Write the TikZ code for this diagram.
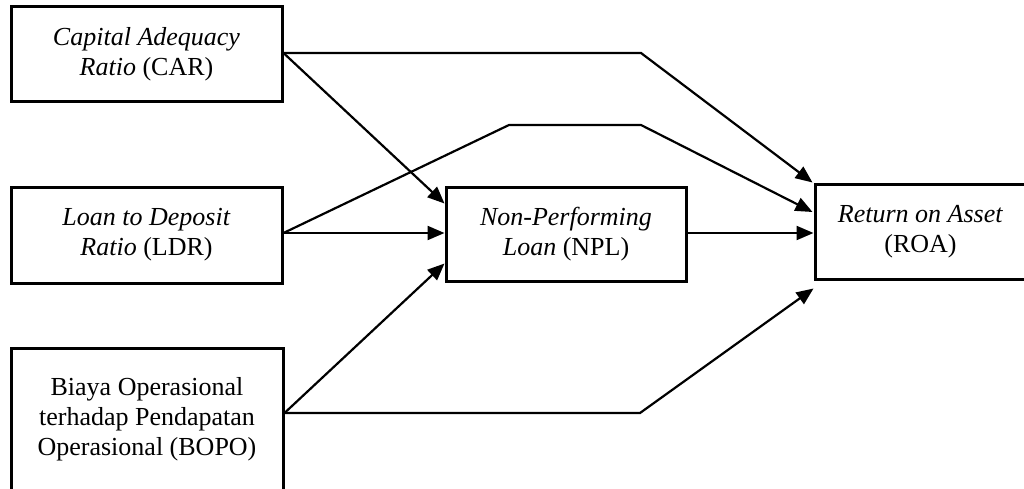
\documentclass[tikz,border=0pt]{standalone}
\usepackage{fontspec}
\setmainfont{Liberation Serif}
\usetikzlibrary{arrows.meta,calc}

\tikzset{
  varbox/.style={draw, line width=3pt, inner sep=0pt, align=center,
    font=\fontsize{26}{30}\selectfont},
  link/.style={line width=2.2pt, line join=miter,
    -{Triangle[length=17pt,width=14pt]}}
}

\begin{document}
\begin{tikzpicture}[x=1pt,y=1pt]
  \useasboundingbox (0,0) rectangle (1024,488);
  \clip (0,0) rectangle (1024,488);

  % independent variables
  \node[varbox, minimum width=271pt, minimum height=95pt] (CAR) at (146.5,433.5)
    {\textit{Capital Adequacy}\\\textit{Ratio} (CAR)};
  \node[varbox, minimum width=271pt, minimum height=96pt] (LDR) at (146.5,253)
    {\textit{Loan to Deposit}\\\textit{Ratio} (LDR)};
  \node[varbox, minimum width=272pt, minimum height=142pt] (BOPO) at (147,69)
    {Biaya Operasional\\terhadap Pendapatan\\Operasional (BOPO)};

  % intervening and dependent variables
  \node[varbox, minimum width=240pt, minimum height=94pt] (NPL) at (566,254)
    {\textit{Non-Performing}\\\textit{Loan} (NPL)};
  \node[varbox, minimum width=211pt, minimum height=95pt] (ROA) at (920.5,256.5)
    {\textit{Return on Asset}\\(ROA)};

  % bend points and arrow targets
  \coordinate (carout) at ($(CAR.east)+(0,1.5)$);
  \coordinate (carbend) at (641,435);
  \coordinate (ldrout) at ($(LDR.east)+(0,2)$);
  \coordinate (ldrbend1) at (509,363);
  \coordinate (ldrbend2) at (641,363);
  \coordinate (bopoout) at (BOPO.east |- 0,75);
  \coordinate (bopobend) at (640,75);
  \coordinate (npltop) at ($(NPL.north west)+(0,-18)$);
  \coordinate (nplbot) at ($(NPL.south west)+(0,19)$);
  \coordinate (roatop) at ($(ROA.north west)+(-1,0)$);
  \coordinate (roaupper) at ($(ROA.west)+(-1,19.5)$);
  \coordinate (roalower) at ($(ROA.south west)+(0,-8)$);

  % paths into NPL
  \draw[link] (carout) -- (npltop);
  \draw[link] (ldrout) -- (ldrout -| NPL.west);
  \draw[link] (bopoout) -- (nplbot);

  % paths into ROA
  \draw[link] (carout) -- (carbend) -- (roatop);
  \draw[link] (ldrout) -- (ldrbend1) -- (ldrbend2) -- (roaupper);
  \draw[link] (NPL.east |- ldrout) -- (ldrout -| ROA.west);
  \draw[link] (bopoout) -- (bopobend) -- (roalower);
\end{tikzpicture}
\end{document}
